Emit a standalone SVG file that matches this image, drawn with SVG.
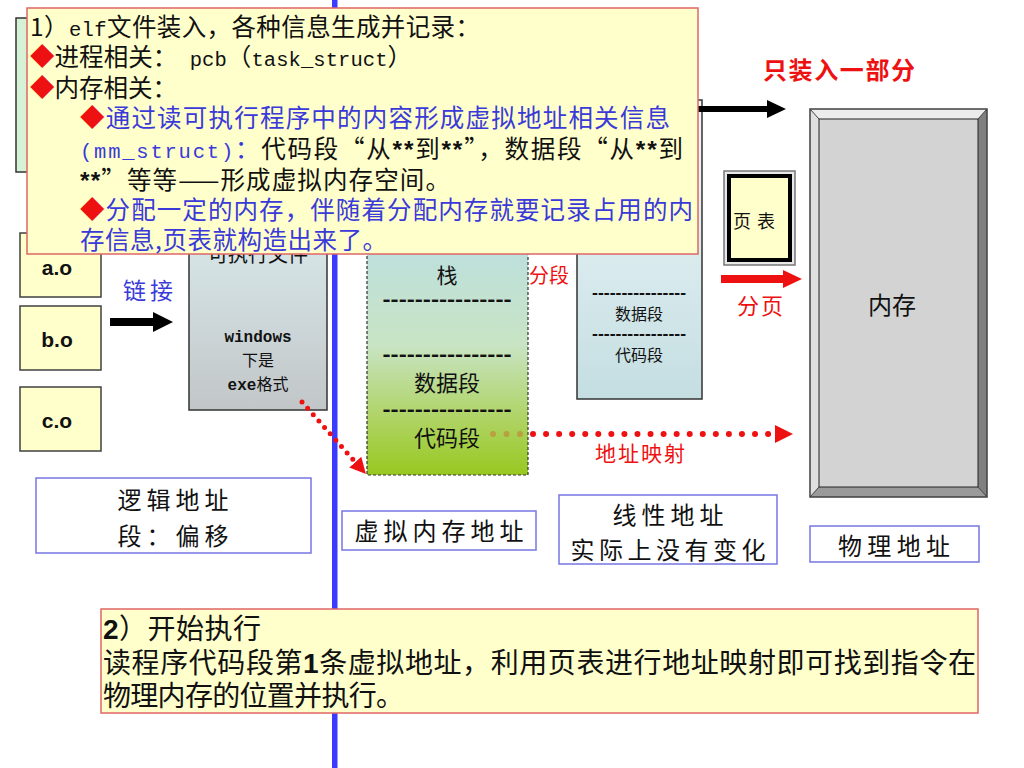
<svg xmlns="http://www.w3.org/2000/svg" width="1024" height="768" viewBox="0 0 1024 768">
<defs>
<style>
.cn{font-family:"Noto Sans CJK SC","Liberation Sans",sans-serif;}
.mono{font-family:"Liberation Mono","Noto Sans CJK SC",monospace;}
.sansb{font-family:"Liberation Sans","Noto Sans CJK SC",sans-serif;font-weight:bold;}
.blk{fill:#111;}
.blu{fill:#3a3ad8;}
.red{fill:#ee1111;}
.dia{fill:#ee1111;}
.obj{fill:#ffffcc;stroke:#404040;stroke-width:1.5;}
.lbl{fill:#ffffff;stroke:#7f7fe6;stroke-width:1.6;}
.note{fill:#ffffcc;stroke:#e06666;stroke-width:1.5;}
.dash{font-family:"Liberation Sans",sans-serif;font-weight:bold;fill:#111;}
.dots{fill:none;stroke:#ee1111;stroke-linecap:round;}
</style>
<linearGradient id="gExe" x1="0" y1="0" x2="0" y2="1"><stop offset="0" stop-color="#d8e8ea"/><stop offset="1" stop-color="#c2c6c8"/></linearGradient>
<linearGradient id="gVirt" x1="0" y1="0" x2="0" y2="1"><stop offset="0" stop-color="#bcdfe0"/><stop offset="0.45" stop-color="#c8e4c4"/><stop offset="0.75" stop-color="#b0d468"/><stop offset="1" stop-color="#98c820"/></linearGradient>
<linearGradient id="gLin" x1="0" y1="0" x2="0" y2="1"><stop offset="0" stop-color="#f2f9fa"/><stop offset="1" stop-color="#c4dee2"/></linearGradient>
<marker id="redHead" markerUnits="userSpaceOnUse" markerWidth="20" markerHeight="20" refX="0" refY="0" viewBox="0 -10 20 20" orient="auto"><path d="M0,-9 L18,0 L0,9 z" fill="#ee1111"/></marker>
<marker id="redHead2" markerUnits="userSpaceOnUse" markerWidth="18" markerHeight="18" refX="0" refY="0" viewBox="0 -9 18 18" orient="auto"><path d="M0,-8 L16,0 L0,8 z" fill="#ee1111"/></marker>
</defs>
<rect width="1024" height="768" fill="#ffffff"/>

<g id="source-box"><rect x="16" y="18" width="180" height="154" fill="#d6f2d6" stroke="#333" stroke-width="1.5"/></g>

<g id="divider"><rect x="332" y="0" width="5.5" height="768" fill="#3b3bff"/></g>

<g id="linear-space">
<rect x="577" y="100" width="125" height="299" fill="url(#gLin)" stroke="#333" stroke-width="1.5"/>
<text class="dash" x="639" y="298" font-size="16" text-anchor="middle" textLength="94" lengthAdjust="spacingAndGlyphs">----------------</text>
<text class="cn blk" x="639" y="320" font-size="16" text-anchor="middle">数据段</text>
<text class="dash" x="639" y="339" font-size="16" text-anchor="middle" textLength="94" lengthAdjust="spacingAndGlyphs">----------------</text>
<text class="cn blk" x="639" y="361" font-size="16" text-anchor="middle">代码段</text>
</g>

<g id="obj-a"><rect class="obj" x="20" y="233" width="81" height="64"/><text class="sansb" x="57" y="275" font-size="21" text-anchor="middle" fill="#111">a.o</text></g>
<g id="obj-b"><rect class="obj" x="20" y="306" width="81" height="64"/><text class="sansb" x="57" y="347" font-size="21" text-anchor="middle" fill="#111">b.o</text></g>
<g id="obj-c"><rect class="obj" x="20" y="387" width="81" height="64"/><text class="sansb" x="57" y="428" font-size="21" text-anchor="middle" fill="#111">c.o</text></g>

<g id="executable">
<rect x="189" y="232" width="138" height="178" fill="url(#gExe)" stroke="#333" stroke-width="1.5"/>
<text class="cn blk" x="258" y="262" font-size="20" text-anchor="middle">可执行文件</text>
<text class="mono" x="258" y="342" font-size="16" font-weight="bold" text-anchor="middle" fill="#111">windows</text>
<text class="cn blk" x="258" y="366" font-size="16" text-anchor="middle">下是</text>
<text x="258" y="390" font-size="16" text-anchor="middle" fill="#111"><tspan class="mono" font-weight="bold">exe</tspan><tspan class="cn">格式</tspan></text>
</g>

<g id="virtual-space">
<rect x="367" y="238" width="161" height="237" fill="url(#gVirt)" stroke="#333" stroke-width="1.2" stroke-dasharray="3,2"/>
<text class="cn blk" x="447" y="283" font-size="21" text-anchor="middle">栈</text>
<text class="dash" x="447" y="306" font-size="20" text-anchor="middle" textLength="129" lengthAdjust="spacingAndGlyphs">----------------</text>
<text class="dash" x="447" y="361" font-size="20" text-anchor="middle" textLength="129" lengthAdjust="spacingAndGlyphs">----------------</text>
<text class="cn blk" x="447" y="391" font-size="22" text-anchor="middle">数据段</text>
<text class="dash" x="447" y="416" font-size="20" text-anchor="middle" textLength="129" lengthAdjust="spacingAndGlyphs">----------------</text>
<text class="cn blk" x="447" y="446" font-size="22" text-anchor="middle">代码段</text>
</g>

<g id="page-table">
<rect x="724" y="171" width="71" height="94" fill="#e8e8e8" stroke="#777" stroke-width="1.5"/>
<rect x="729" y="176" width="61" height="84" fill="#ffffcc" stroke="#000" stroke-width="4"/>
<text class="cn blk" x="733" y="228" font-size="18" textLength="42" lengthAdjust="spacing">页表</text>
</g>

<g id="memory">
<polygon points="810,109 987,109 978,119 819,119" fill="#ececec"/>
<polygon points="810,109 819,119 819,487 810,497" fill="#e0e0e0"/>
<polygon points="987,109 987,497 978,487 978,119" fill="#808080"/>
<polygon points="810,497 987,497 978,487 819,487" fill="#9a9a9a"/>
<rect x="819" y="119" width="159" height="368" fill="#d3d3d3" stroke="#222" stroke-width="1"/>
<rect x="810" y="109" width="177" height="388" fill="none" stroke="#404040" stroke-width="1.5"/>
<line x1="810" y1="109" x2="819" y2="119" stroke="#404040"/><line x1="987" y1="109" x2="978" y2="119" stroke="#404040"/>
<line x1="810" y1="497" x2="819" y2="487" stroke="#404040"/><line x1="987" y1="497" x2="978" y2="487" stroke="#404040"/>
<text class="cn blk" x="892" y="314" font-size="24" text-anchor="middle">内存</text>
</g>

<g id="labels">
<text class="cn blu" x="123" y="299" font-size="23" textLength="50" lengthAdjust="spacing">链接</text>
<text class="cn red" x="529" y="283" font-size="20">分段</text>
<text class="cn red" x="763" y="79" font-size="24" font-weight="bold" textLength="152" lengthAdjust="spacing">只装入一部分</text>
<text class="cn red" x="737" y="314" font-size="22" textLength="46" lengthAdjust="spacing">分页</text>
<text class="cn red" x="595" y="461" font-size="21" textLength="90" lengthAdjust="spacing">地址映射</text>
</g>

<g id="connectors">
<polygon points="690,106 767,106 767,100 786,109 767,118 767,112 690,112" fill="#000"/>
<polygon points="110,318 153,318 153,312 173,322 153,332 153,326 110,326" fill="#000"/>
<polygon points="721,275 783,275 783,270 802,279 783,288 783,283 721,283" fill="#ee1111"/>
<line class="dots" x1="302" y1="402" x2="355.3" y2="462.1" stroke-width="5" stroke-dasharray="0 8.5" marker-end="url(#redHead2)"/>
<line class="dots" x1="493" y1="434" x2="521" y2="434" stroke-width="6" stroke-dasharray="0 13.5" opacity="0.25"/>
<line class="dots" x1="533" y1="434" x2="775" y2="434" stroke-width="6" stroke-dasharray="0 13.06" marker-end="url(#redHead)"/>
</g>

<g id="logical-label"><rect class="lbl" x="36" y="478" width="275" height="75"/>
<text class="cn blk" x="173" y="509" font-size="24" text-anchor="middle" textLength="111" lengthAdjust="spacing">逻辑地址</text>
<text class="cn blk" x="173" y="545" font-size="24" text-anchor="middle" textLength="111" lengthAdjust="spacing">段：偏移</text></g>
<g id="virtual-label"><rect class="lbl" x="342" y="511" width="194" height="39"/>
<text class="cn blk" x="439" y="540" font-size="24" text-anchor="middle" textLength="169" lengthAdjust="spacing">虚拟内存地址</text></g>
<g id="linear-label"><rect class="lbl" x="559" y="495" width="218" height="69"/>
<text class="cn blk" x="668" y="524" font-size="24" text-anchor="middle" textLength="111" lengthAdjust="spacing">线性地址</text>
<text class="cn blk" x="668" y="559" font-size="24" text-anchor="middle" textLength="195" lengthAdjust="spacing">实际上没有变化</text></g>
<g id="physical-label"><rect class="lbl" x="810" y="526" width="169" height="36"/>
<text class="cn blk" x="894" y="555" font-size="24" text-anchor="middle" textLength="112" lengthAdjust="spacing">物理地址</text></g>

<g id="note-load">
<rect class="note" x="27" y="8" width="671" height="246"/>
<text class="cn blk" x="30" y="36" font-size="24.5" textLength="450" lengthAdjust="spacing">1）<tspan class="mono" font-size="20.5">elf</tspan>文件装入，各种信息生成并记录：</text>
<text class="cn blk" x="30" y="66" font-size="24.5" textLength="382" lengthAdjust="spacing"><tspan class="dia">◆</tspan>进程相关：<tspan class="mono" font-size="20.5">  pcb</tspan>（<tspan class="mono" font-size="20.5">task_struct</tspan>）</text>
<text class="cn blk" x="30" y="97" font-size="24.5"><tspan class="dia">◆</tspan>内存相关：</text>
<text class="cn blu" x="80" y="127" font-size="24.5" textLength="590" lengthAdjust="spacing"><tspan class="dia">◆</tspan>通过读可执行程序中的内容形成虚拟地址相关信息</text>
<text class="cn blk" x="80" y="158" font-size="24.5" textLength="603" lengthAdjust="spacing"><tspan class="mono blu" font-size="20.5">(mm_struct)</tspan><tspan class="blu">：</tspan>代码段“从<tspan class="sansb">**</tspan>到<tspan class="sansb">**</tspan>”，数据段“从<tspan class="sansb">**</tspan>到</text>
<text class="cn blk" x="80" y="189" font-size="24.5" textLength="370" lengthAdjust="spacing"><tspan class="sansb">**</tspan>”等等——形成虚拟内存空间。</text>
<text class="cn blu" x="80" y="219" font-size="24.5" textLength="613" lengthAdjust="spacing"><tspan class="dia">◆</tspan>分配一定的内存，伴随着分配内存就要记录占用的内</text>
<text class="cn blu" x="80" y="249" font-size="24.5" textLength="307" lengthAdjust="spacing">存信息,页表就构造出来了。</text>
</g>

<g id="note-exec">
<rect class="note" x="101" y="609" width="877" height="104"/>
<text class="cn blk" x="103" y="639" font-size="28" textLength="158" lengthAdjust="spacing"><tspan class="sansb">2</tspan>）开始执行</text>
<text class="cn blk" x="103" y="673" font-size="28" textLength="873" lengthAdjust="spacing">读程序代码段第<tspan class="sansb">1</tspan>条虚拟地址，利用页表进行地址映射即可找到指令在</text>
<text class="cn blk" x="103" y="706" font-size="28" textLength="301" lengthAdjust="spacing">物理内存的位置并执行。</text>
</g>
</svg>
